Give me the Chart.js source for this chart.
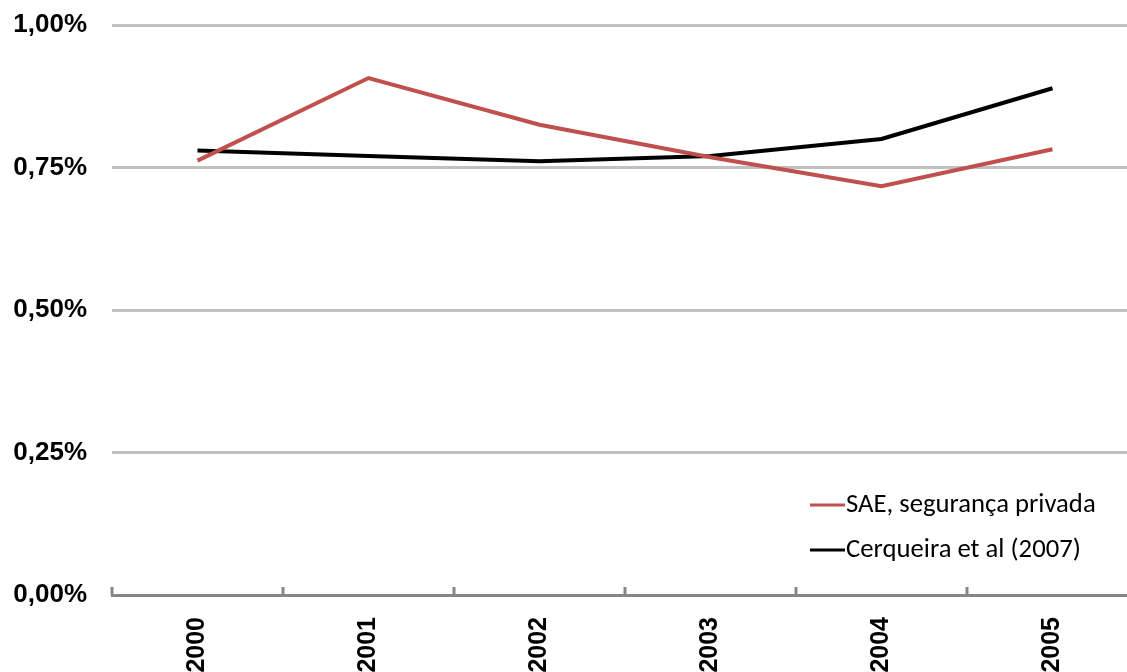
<!DOCTYPE html>
<html>
<head>
<meta charset="utf-8">
<script src="https://cdn.jsdelivr.net/npm/chart.js@4/dist/chart.umd.min.js"></script>
<style>
  html, body { margin: 0; padding: 0; background: #fff; overflow: hidden; }
  #wrap { width: 1140px; height: 700px; }
</style>
</head>
<body>
<div id="wrap"><canvas id="grafico" width="1140" height="700"></canvas></div>
<script>
// dados (em %)
const anos = ['2000', '2001', '2002', '2003', '2004', '2005'];
const saeSeguranca = [0.762, 0.907, 0.825, 0.768, 0.717, 0.782];
const cerqueira = [0.780, 0.770, 0.761, 0.770, 0.800, 0.889];
const ticksY = [0, 0.25, 0.5, 0.75, 1.0];

const fmtPct = v => v.toFixed(2).replace('.', ',') + '%';

// marcas do eixo X entre categorias, apontando para dentro
const marcasX = {
  id: 'marcasX',
  afterDatasetsDraw(chart) {
    const x = chart.scales.x, ctx = chart.ctx;
    const passo = x.getPixelForValue(1) - x.getPixelForValue(0);
    ctx.save();
    ctx.strokeStyle = '#868686';
    ctx.lineWidth = 3;
    for (let i = 0; i < anos.length; i++) {
      const px = Math.round(x.getPixelForValue(i) - passo / 2);
      ctx.beginPath();
      ctx.moveTo(px, x.top);
      ctx.lineTo(px, x.top - 8);
      ctx.stroke();
    }
    ctx.restore();
  }
};

// legenda dentro da área do gráfico, canto inferior direito
const legendaDentro = {
  id: 'legendaDentro',
  afterDraw(chart) {
    const ctx = chart.ctx;
    ctx.save();
    ctx.font = '21px Carlito, Lato, sans-serif';
    const larg = ctx.measureText('SAE, segurança privada').width;
    const tam = 21 * 250 / larg;
    ctx.font = tam.toFixed(1) + 'px Carlito, Lato, sans-serif';
    ctx.textBaseline = 'middle';
    ctx.fillStyle = '#000';
    chart.data.datasets.forEach((ds, i) => {
      const y = 505 + i * 45;
      ctx.strokeStyle = ds.borderColor;
      ctx.lineWidth = 3;
      ctx.beginPath();
      ctx.moveTo(810, y);
      ctx.lineTo(845, y);
      ctx.stroke();
      ctx.fillText(ds.label, 846, y);
    });
    ctx.restore();
  }
};

new Chart(document.getElementById('grafico'), {
  type: 'line',
  data: {
    labels: anos,
    datasets: [
      { label: 'SAE, segurança privada', data: saeSeguranca, borderColor: '#c0504d', borderWidth: 4, pointRadius: 0, tension: 0 },
      { label: 'Cerqueira et al (2007)', data: cerqueira, borderColor: '#000000', borderWidth: 4, pointRadius: 0, tension: 0 }
    ]
  },
  options: {
    responsive: false,
    animation: false,
    layout: { padding: { top: 25, right: 2, left: 0, bottom: 0 } },
    plugins: { legend: { display: false }, tooltip: { enabled: false } },
    scales: {
      x: {
        offset: true,
        afterFit: s => { s.height = 105; s.paddingLeft = 0; s.paddingRight = 0; },
        border: { display: true, color: '#868686', width: 3 },
        grid: { display: false },
        ticks: {
          minRotation: 90, maxRotation: 90, padding: 14,
          color: '#000', font: { family: 'Arial, "Liberation Sans", sans-serif', weight: 'bold', size: 25 }
        }
      },
      y: {
        min: 0, max: 1.0,
        afterFit: s => { s.width = 112; s.paddingTop = 0; s.paddingBottom = 0; },
        afterBuildTicks: s => { s.ticks = ticksY.map(v => ({ value: v })); },
        border: { display: false },
        grid: {
          drawTicks: false,
          lineWidth: 3,
          color: c => c.tick && c.tick.value === 0 ? 'rgba(0,0,0,0)' : '#c0c0c0'
        },
        ticks: {
          padding: 25,
          color: '#000',
          font: { family: 'Arial, "Liberation Sans", sans-serif', weight: 'bold', size: 26 },
          callback: v => fmtPct(v)
        }
      }
    }
  },
  plugins: [marcasX, legendaDentro]
});
</script>
</body>
</html>
